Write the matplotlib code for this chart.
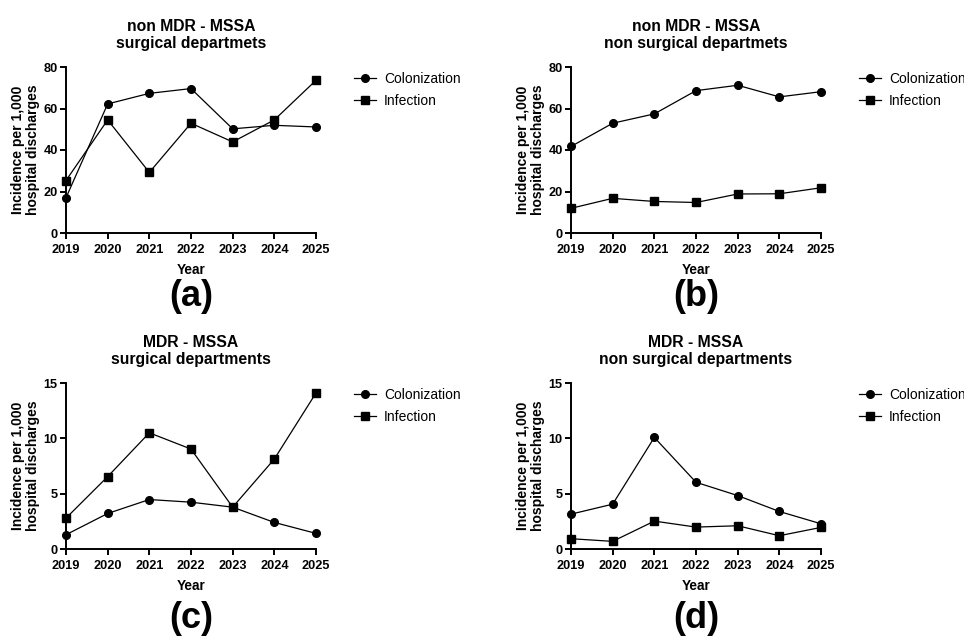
import matplotlib

matplotlib.use("Agg")

import matplotlib.pyplot as plt
from matplotlib.lines import Line2D

plt.rcParams["font.family"] = ["Liberation Sans", "DejaVu Sans"]

YEARS = [2019, 2020, 2021, 2022, 2023, 2024, 2025]

# panel (a): non MDR - MSSA, surgical
A_COLONIZATION = [17.0, 62.2, 67.3, 69.6, 50.2, 51.9, 51.1]
A_INFECTION = [25.3, 54.5, 29.2, 52.9, 43.9, 54.5, 73.6]
# panel (b): non MDR - MSSA, non surgical
B_COLONIZATION = [41.7, 52.9, 57.4, 68.6, 71.2, 65.6, 68.1]
B_INFECTION = [11.9, 16.7, 15.2, 14.7, 18.8, 18.9, 21.8]
# panel (c): MDR - MSSA, surgical
C_COLONIZATION = [1.29, 3.21, 4.47, 4.23, 3.78, 2.40, 1.41]
C_INFECTION = [2.79, 6.54, 10.5, 9.03, 3.78, 8.13, 14.1]
# panel (d): MDR - MSSA, non surgical
D_COLONIZATION = [3.15, 4.05, 10.08, 6.03, 4.83, 3.39, 2.28]
D_INFECTION = [0.93, 0.69, 2.52, 1.98, 2.10, 1.20, 1.95]

PANELS = [
    ("non MDR - MSSA\nsurgical departmets", "(a)", A_COLONIZATION, A_INFECTION, 80, [0, 20, 40, 60, 80]),
    ("non MDR - MSSA\nnon surgical departmets", "(b)", B_COLONIZATION, B_INFECTION, 80, [0, 20, 40, 60, 80]),
    ("MDR - MSSA\nsurgical departments", "(c)", C_COLONIZATION, C_INFECTION, 15, [0, 5, 10, 15]),
    ("MDR - MSSA\nnon surgical departments", "(d)", D_COLONIZATION, D_INFECTION, 15, [0, 5, 10, 15]),
]

W, H = 964, 638
# axes boxes in pixels: left, top, right, bottom
BOXES = [
    (66, 67, 316, 233),
    (571, 67, 821, 233),
    (66, 383, 316, 549),
    (571, 383, 821, 549),
]
LETTER_Y = [297, 297, 619, 619]


def draw_panel(fig, box, panel, letter_y):
    title, letter, col, inf, ymax, yticks = panel
    left, top, right, bottom = box
    ax = fig.add_axes([left / W, 1 - bottom / H, (right - left) / W, (bottom - top) / H])
    ax.plot(YEARS, col, "-o", color="black", linewidth=0.9, markersize=5.5, clip_on=False, zorder=4)
    ax.plot(YEARS, inf, "-s", color="black", linewidth=0.9, markersize=5.5, clip_on=False, zorder=4)
    ax.set_xlim(2019, 2025)
    ax.set_ylim(0, ymax)
    ax.set_xticks(YEARS)
    ax.set_yticks(yticks)
    for side in ("top", "right"):
        ax.spines[side].set_visible(False)
    for side in ("left", "bottom"):
        ax.spines[side].set_linewidth(1.4)
    ax.tick_params(direction="out", length=4, width=1.4, labelsize=9.2)
    ax.tick_params(axis="x", pad=4)
    ax.tick_params(axis="y", pad=2)
    for lab in ax.get_xticklabels() + ax.get_yticklabels():
        lab.set_fontweight("bold")
    ax.set_title(title, fontsize=11.3, fontweight="bold", pad=14, linespacing=1.15)
    ax.set_xlabel("Year", fontsize=9.8, fontweight="bold", labelpad=5)
    ax.set_ylabel("Incidence per 1,000\nhospital discharges", fontsize=10, fontweight="bold", linespacing=1.05)
    ax.yaxis.set_label_coords(-0.105, 0.5)
    handles = [
        Line2D([], [], color="black", marker="o", linewidth=0.9, markersize=5.5),
        Line2D([], [], color="black", marker="s", linewidth=0.9, markersize=5.5),
    ]
    ax.legend(handles, ["Colonization", "Infection"], loc="upper left", bbox_to_anchor=(1.1, 1.045),
              frameon=False, fontsize=10, handlelength=1.6, handletextpad=0.6, labelspacing=0.55)
    fig.text((left + right) / 2 / W, 1 - letter_y / H, letter, ha="center", va="center",
             fontsize=26, fontweight="bold")


def main():
    fig = plt.figure(figsize=(W / 100, H / 100), dpi=100)
    for box, panel, ly in zip(BOXES, PANELS, LETTER_Y):
        draw_panel(fig, box, panel, ly)
    fig.savefig("out.png", dpi=100)
    plt.close(fig)


if __name__ == "__main__":
    main()
